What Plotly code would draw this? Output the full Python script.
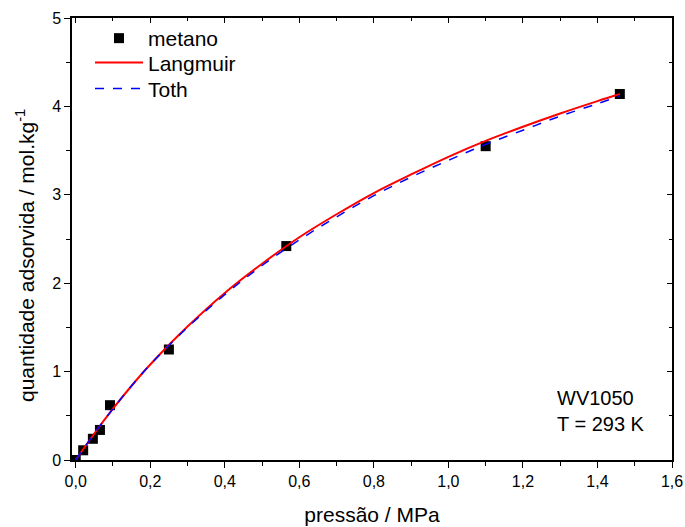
import plotly.graph_objects as go

# measured data (metano)
p_data = [0.0, 0.02, 0.046, 0.065, 0.092, 0.25, 0.565, 1.10, 1.46]
q_data = [0.0, 0.11, 0.24, 0.34, 0.62, 1.25, 2.42, 3.55, 4.14]

# fitted curves
p_fit = [0.0, 0.05, 0.1, 0.15, 0.2, 0.3, 0.4, 0.5, 0.6, 0.7, 0.8, 0.9, 1.0, 1.1, 1.2, 1.3, 1.4, 1.46]
q_langmuir = [0.0, 0.30, 0.58, 0.84, 1.08, 1.51, 1.89, 2.22, 2.52, 2.78, 3.02, 3.23, 3.43, 3.61, 3.77, 3.92, 4.06, 4.14]
q_toth = [0.0, 0.30, 0.58, 0.84, 1.08, 1.50, 1.87, 2.20, 2.49, 2.75, 2.99, 3.20, 3.39, 3.57, 3.73, 3.89, 4.03, 4.12]

FONT = "Liberation Sans, Arial, sans-serif"

fig = go.Figure()
fig.add_trace(go.Scatter(x=p_data, y=q_data, mode="markers", name="metano", legend="legend",
                         marker=dict(symbol="square", size=10, color="black")))
fig.add_trace(go.Scatter(x=p_fit, y=q_langmuir, mode="lines", name="Langmuir", legend="legend2",
                         line=dict(color="red", width=2, shape="spline")))
fig.add_trace(go.Scatter(x=p_fit, y=q_toth, mode="lines", name="Toth", legend="legend3",
                         line=dict(color="blue", width=1.5, dash="dash", shape="spline")))
# invisible trace to activate mirror axes
fig.add_trace(go.Scatter(x=[0], y=[0], xaxis="x2", yaxis="y2", showlegend=False,
                         mode="markers", marker=dict(opacity=0), hoverinfo="skip"))

common = dict(showgrid=False, zeroline=False, linecolor="black", linewidth=1.5, automargin=False,
              tickcolor="black", tickfont=dict(family=FONT, size=16, color="black"))

def leg(y):
    return dict(x=0.03, y=y, xanchor="left", yanchor="top", bgcolor="rgba(0,0,0,0)",
                font=dict(family=FONT, size=21), itemwidth=48)

fig.update_layout(
    width=685, height=527,
    margin=dict(l=72, r=13, t=18, b=67, autoexpand=False),
    plot_bgcolor="white", paper_bgcolor="white",
    separators=",.",
    font=dict(family=FONT, color="black"),
    xaxis=dict(range=[-0.01, 1.6], tick0=0, dtick=0.2, tickformat=".1f",
               ticks="outside", ticklen=6, tickwidth=1.2,
               minor=dict(ticks="outside", dtick=0.1, ticklen=4, tickcolor="black", tickwidth=1.2),
               title=dict(text="pressão / MPa", font=dict(family=FONT, size=21), standoff=18),
               **common),
    yaxis=dict(range=[0, 5], tick0=0, dtick=1,
               ticks="outside", ticklen=6, tickwidth=1.2,
               minor=dict(ticks="outside", dtick=0.5, ticklen=4, tickcolor="black", tickwidth=1.2),
               **common),
    xaxis2=dict(overlaying="x", matches="x", side="top", showticklabels=False, automargin=False,
                ticks="inside", ticklen=5, tickwidth=1, dtick=0.2, tick0=0,
                minor=dict(ticks="inside", dtick=0.1, ticklen=3, tickcolor="black"),
                showline=True, showgrid=False, zeroline=False, linecolor="black", linewidth=1.5, tickcolor="black"),
    yaxis2=dict(overlaying="y", matches="y", side="right", showticklabels=False, automargin=False,
                ticks="inside", ticklen=5, tickwidth=1, dtick=1, tick0=0,
                minor=dict(ticks="inside", dtick=0.5, ticklen=3, tickcolor="black"),
                showline=True, showgrid=False, zeroline=False, linecolor="black", linewidth=1.5, tickcolor="black"),
    legend=leg(1.0),
    legend2=leg(0.945),
    legend3=leg(0.886),
    showlegend=True,
    annotations=[
        dict(x=0.805, y=0.17, xref="paper", yref="paper", xanchor="left", yanchor="top",
             text="WV1050<br>T = 293 K", showarrow=False, align="left",
             font=dict(family=FONT, size=20, color="black")),
        dict(x=-0.078, y=0.462, xref="paper", yref="paper", xanchor="center", yanchor="middle",
             text="quantidade adsorvida / mol.kg<sup>-1</sup>", textangle=-90, showarrow=False,
             font=dict(family=FONT, size=21, color="black")),
    ],
)

fig.write_html("out.html")
